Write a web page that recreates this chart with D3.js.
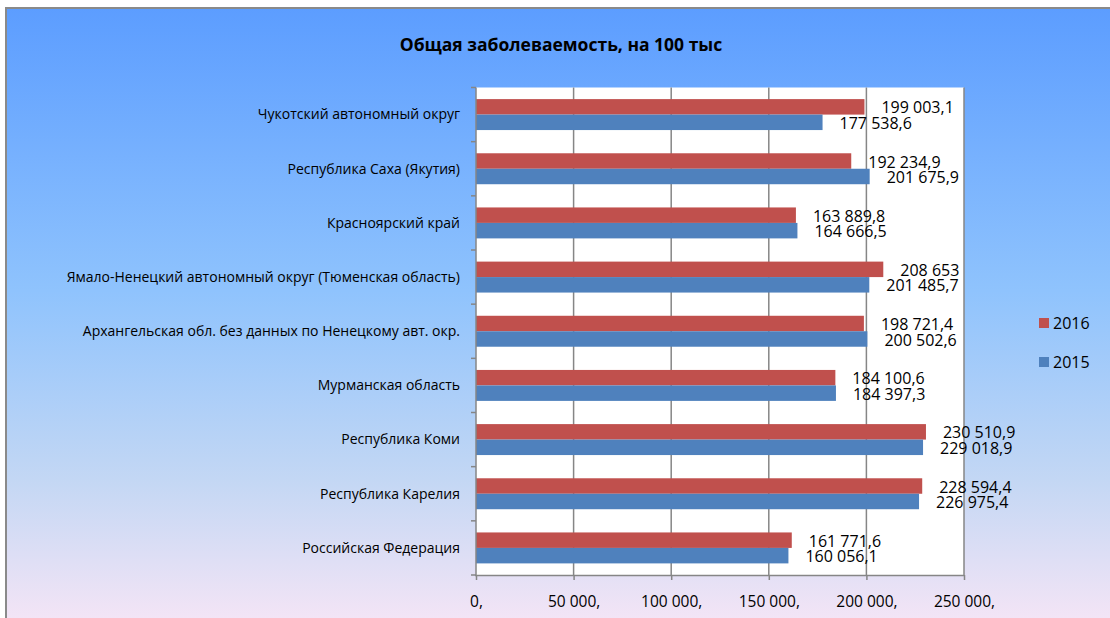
<!DOCTYPE html>
<html>
<head>
<meta charset="utf-8">
<script src="https://cdn.jsdelivr.net/npm/d3@7"></script>
<style>
  body { margin: 0; padding: 0; background: #fff; }
  svg text { font-family: "Open Sans", "Noto Sans", sans-serif; fill: #000; }
</style>
</head>
<body>
<div id="chart"></div>
<script>
var svgWidth = 1110;
var svgHeight = 618;

// categories, top to bottom as in the picture
var regions = [
    "Чукотский автономный округ",
    "Республика Саха (Якутия)",
    "Красноярский край",
    "Ямало-Ненецкий автономный округ (Тюменская область)",
    "Архангельская обл. без данных по Ненецкому авт. окр.",
    "Мурманская область",
    "Республика Коми",
    "Республика Карелия",
    "Российская Федерация"
];
var years = ["2016", "2015"];
var values2016 = [199003.1, 192234.9, 163889.8, 208653, 198721.4, 184100.6, 230510.9, 228594.4, 161771.6];
var values2015 = [177538.6, 201675.9, 164666.5, 201485.7, 200502.6, 184397.3, 229018.9, 226975.4, 160056.1];
var xTicks = [0, 50000, 100000, 150000, 200000, 250000];

var colors = { "2016": "#C0504D", "2015": "#4F81BD" };

var plot = { left: 476, right: 964, top: 87.5, bottom: 575 };

var ru = d3.formatLocale({ decimal: ",", thousands: " ", grouping: [3], currency: ["", ""] });
var fmtVal = ru.format(",.1~f");
var fmtTick = function(d) { return ru.format(",")(d) + ","; };

var rows = regions.map(function(r, i) {
    return { region: r, "2016": values2016[i], "2015": values2015[i] };
});

var svg = d3.select("#chart").append("svg")
    .attr("width", svgWidth)
    .attr("height", svgHeight);

// background gradient
var defs = svg.append("defs");
var grad = defs.append("linearGradient")
    .attr("id", "bg")
    .attr("x1", 0).attr("y1", 0).attr("x2", 0).attr("y2", 1);
grad.append("stop").attr("offset", "0%").attr("stop-color", "#5c9dff");
grad.append("stop").attr("offset", "45%").attr("stop-color", "#8fc3fd");
grad.append("stop").attr("offset", "75%").attr("stop-color", "#c3d7f4");
grad.append("stop").attr("offset", "100%").attr("stop-color", "#f9e6f6");

svg.append("rect")
    .attr("x", 6).attr("y", 8)
    .attr("width", svgWidth + 10).attr("height", svgHeight + 10)
    .attr("fill", "url(#bg)")
    .attr("stroke", "#8a8a8a")
    .attr("stroke-width", 2);

// title
svg.append("text")
    .attr("x", 561)
    .attr("y", 51)
    .attr("text-anchor", "middle")
    .style("font-size", "17.5px")
    .style("font-weight", "bold")
    .text("Общая заболеваемость, на 100 тыс");

// scales
var xScale = d3.scaleLinear()
    .domain([0, 250000])
    .range([plot.left, plot.right]);

var yScale = d3.scaleBand()
    .domain(regions)
    .range([plot.top, plot.bottom])
    .padding(0);

var ySub = d3.scaleBand()
    .domain(years)
    .range([0, yScale.bandwidth()])
    .paddingInner(0)
    .paddingOuter(0.75);

// plot area
svg.append("rect")
    .attr("x", plot.left).attr("y", plot.top)
    .attr("width", plot.right - plot.left)
    .attr("height", plot.bottom - plot.top)
    .attr("fill", "#fff");

// vertical gridlines
svg.append("g").selectAll("line")
    .data(xTicks.slice(1))
    .enter().append("line")
    .attr("x1", d => xScale(d)).attr("x2", d => xScale(d))
    .attr("y1", plot.top).attr("y2", plot.bottom)
    .attr("stroke", "#868686")
    .attr("stroke-width", 1.5);

// bars
var groups = svg.append("g").selectAll("g")
    .data(rows)
    .enter().append("g")
    .attr("transform", d => `translate(0,${yScale(d.region)})`);

groups.selectAll("rect")
    .data(d => years.map(y => ({ year: y, value: d[y] })))
    .enter().append("rect")
    .attr("x", xScale(0))
    .attr("y", d => ySub(d.year))
    .attr("width", d => xScale(d.value) - xScale(0))
    .attr("height", ySub.bandwidth())
    .attr("fill", d => colors[d.year]);

// data labels
groups.selectAll("text")
    .data(d => years.map(y => ({ year: y, value: d[y] })))
    .enter().append("text")
    .attr("x", d => xScale(d.value) + 17)
    .attr("y", d => ySub(d.year) + ySub.bandwidth() / 2 + 1)
    .attr("dy", "0.35em")
    .style("font-size", "16px")
    .text(d => fmtVal(d.value));

// x axis
var bottomAxis = d3.axisBottom(xScale)
    .tickValues(xTicks)
    .tickSize(5)
    .tickFormat(fmtTick);

var xAxis = svg.append("g")
    .attr("transform", `translate(0,${plot.bottom})`)
    .call(bottomAxis);
xAxis.selectAll("path, line").attr("stroke", "#868686").attr("stroke-width", 1.5);
xAxis.select(".domain").attr("d", `M${plot.left - 1},0.5H${plot.right}`);
xAxis.selectAll("text")
    .attr("y", 21)
    .style("font-size", "15.5px")
    .style("font-family", "'Open Sans', sans-serif");

// y axis: line with ticks at category boundaries
var yAxisG = svg.append("g");
yAxisG.append("line")
    .attr("x1", plot.left).attr("x2", plot.left)
    .attr("y1", plot.top).attr("y2", plot.bottom)
    .attr("stroke", "#868686").attr("stroke-width", 1.5);
yAxisG.selectAll(".tick")
    .data(regions.concat([null]))
    .enter().append("line")
    .attr("x1", plot.left - 5).attr("x2", plot.left)
    .attr("y1", (d, i) => plot.top + i * yScale.step())
    .attr("y2", (d, i) => plot.top + i * yScale.step())
    .attr("stroke", "#868686").attr("stroke-width", 1.5);
yAxisG.selectAll("text")
    .data(regions)
    .enter().append("text")
    .attr("x", 460)
    .attr("y", d => yScale(d) + yScale.bandwidth() / 2)
    .attr("dy", "0.35em")
    .attr("text-anchor", "end")
    .style("font-size", "14px")
    .text(d => d);

// legend
var legend = svg.append("g").selectAll("g")
    .data(years)
    .enter().append("g")
    .attr("transform", (d, i) => `translate(1039,${318 + i * 39})`);
legend.append("rect")
    .attr("width", 10).attr("height", 10)
    .attr("fill", d => colors[d]);
legend.append("text")
    .attr("x", 14).attr("y", 5)
    .attr("dy", "0.35em")
    .style("font-size", "16px")
    .text(d => d);
</script>
</body>
</html>
